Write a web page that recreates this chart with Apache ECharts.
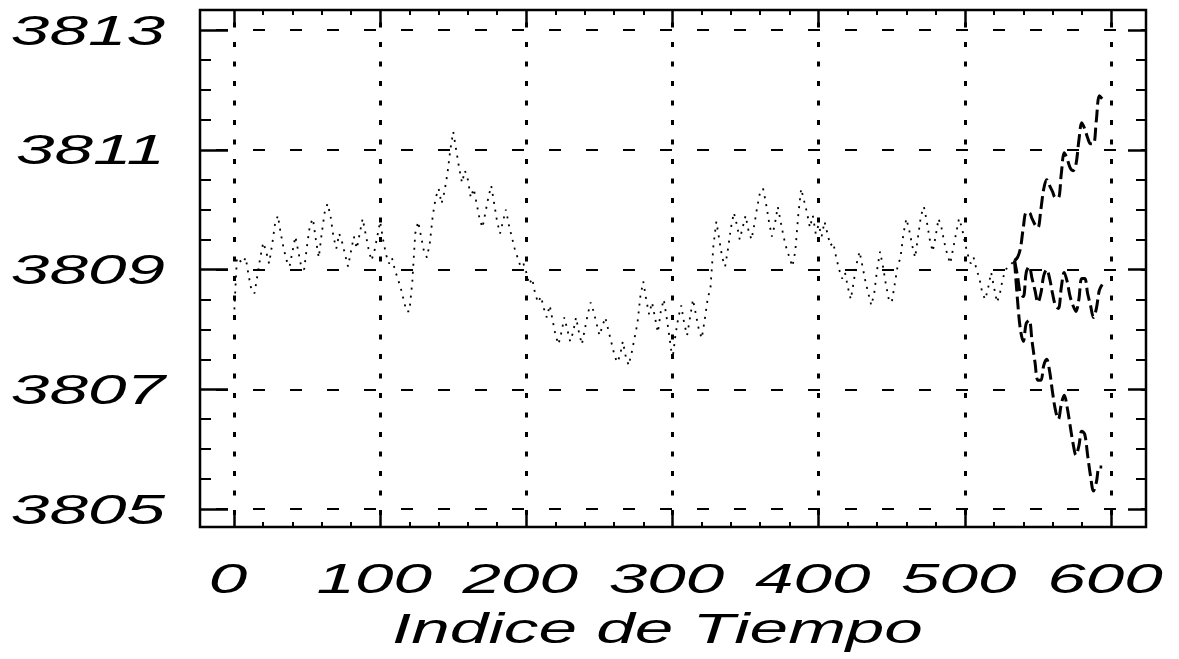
<!DOCTYPE html>
<html>
<head>
<meta charset="utf-8">
<script src="https://cdn.jsdelivr.net/npm/echarts@6/dist/echarts.min.js"></script>
<style>
  html, body { margin: 0; padding: 0; background: #fff; }
  #chart { width: 1179px; height: 659px; }
</style>
</head>
<body>
<div id="chart"></div>
<script>
// Observed series, one value every HIST_STEP time indices starting at 0
const HIST_STEP = 2;
const HIST = [
  3808.2, 3809.2, 3809.15, 3809.1, 3809.2, 3808.9, 3808.65, 3808.6, 3808.9, 3809.2,
  3809.45, 3809.3, 3809.1, 3809.4, 3809.75, 3809.9, 3809.6, 3809.35, 3809.15, 3809.05,
  3809.3, 3809.55, 3809.3, 3809.05, 3809.0, 3809.4, 3809.75, 3809.85, 3809.5, 3809.2,
  3809.6, 3809.95, 3810.1, 3809.9, 3809.55, 3809.35, 3809.6, 3809.45, 3809.25, 3809.05,
  3809.3, 3809.55, 3809.35, 3809.6, 3809.85, 3809.6, 3809.35, 3809.15, 3809.3, 3809.55,
  3809.8,
  3809.5, 3809.25, 3809.1, 3809.2, 3809.0, 3808.85, 3808.7, 3808.5, 3808.3, 3808.3,
  3808.8, 3809.6, 3809.8, 3809.55, 3809.3, 3809.2, 3809.45, 3809.9, 3810.2, 3810.35,
  3810.1, 3810.3, 3810.6, 3811.0, 3811.3, 3811.0, 3810.7, 3810.45, 3810.65, 3810.5,
  3810.2, 3810.35, 3810.1, 3809.85, 3809.7, 3809.95, 3810.2, 3810.4, 3810.1, 3809.8,
  3809.6, 3809.8, 3810.0, 3809.75, 3809.55, 3809.35, 3809.2, 3809.05, 3809.1, 3808.95,
  3808.75, 3808.85, 3808.6, 3808.45, 3808.55, 3808.35, 3808.2, 3808.4, 3808.15, 3807.9,
  3807.75, 3807.95, 3808.2, 3808.0, 3807.8, 3807.95, 3808.2, 3807.95, 3807.75, 3808.0,
  3808.25, 3808.45, 3808.3, 3808.1, 3807.9, 3808.05, 3808.2, 3808.0, 3807.8, 3807.6,
  3807.45, 3807.55, 3807.8, 3807.55, 3807.4, 3807.6, 3807.85, 3808.1, 3808.55, 3808.8,
  3808.5, 3808.25, 3808.45, 3808.2, 3807.95, 3808.3, 3808.5, 3808.2, 3807.85, 3807.5,
  3807.9, 3808.2, 3808.4, 3808.1, 3807.9, 3808.2, 3808.5, 3808.25, 3808.0, 3807.85,
  3808.15, 3808.5, 3808.7, 3809.4, 3809.8, 3809.5, 3809.2, 3809.05, 3809.35, 3809.7,
  3809.95, 3809.75, 3809.5, 3809.7, 3809.9, 3809.65, 3809.5, 3809.75, 3810.05, 3810.3,
  3810.35, 3810.1, 3809.8, 3809.55, 3809.75, 3810.05, 3809.8, 3809.55, 3809.35, 3809.2,
  3809.05, 3809.3, 3809.9, 3810.35, 3810.15, 3809.95, 3809.7, 3809.9, 3809.6, 3809.75,
  3809.55, 3809.8, 3809.6, 3809.4, 3809.45, 3809.2, 3809.0, 3808.85, 3808.95, 3808.7,
  3808.5, 3808.8, 3809.1, 3809.3, 3809.05, 3808.8, 3808.6, 3808.4, 3808.6, 3809.0,
  3809.3, 3809.05, 3808.75, 3808.5, 3808.45, 3808.75, 3809.05, 3809.2, 3809.6, 3809.85,
  3809.65, 3809.4, 3809.2, 3809.55, 3809.9, 3810.05, 3809.8, 3809.5, 3809.3, 3809.55,
  3809.85, 3809.7, 3809.45, 3809.25, 3809.1, 3809.35, 3809.6, 3809.85, 3809.7, 3809.45,
  3809.25, 3809.1, 3809.2, 3809.0, 3808.85, 3808.6, 3808.5, 3808.7, 3808.95, 3808.7,
  3808.45, 3808.6, 3808.85, 3809.0, 3809.05, 3809.1, 3809.15
];

// Forecast: time indices, point forecast and upper / lower limits
const FC_IDX = [534, 536, 538, 540, 542, 544, 546, 548, 550, 552, 554, 556, 558, 560, 562, 564,
                566, 568, 570, 572, 574, 576, 578, 580, 582, 584, 586, 588, 590, 592, 594];
const FC_MID = [3809.15, 3808.9, 3808.6, 3808.55, 3808.95, 3809.05, 3808.85, 3808.65, 3808.45, 3808.6,
                3808.9, 3809.0, 3808.85, 3808.6, 3808.4, 3808.35, 3808.7, 3808.95, 3808.8, 3808.55,
                3808.4, 3808.3, 3808.5, 3808.85, 3808.85, 3808.6, 3808.4, 3808.2, 3808.35, 3808.65, 3808.75];
const FC_UP  = [3809.15, 3809.2, 3809.35, 3809.7, 3809.95, 3809.95, 3809.85, 3809.75, 3809.7, 3810.0,
                3810.35, 3810.5, 3810.4, 3810.3, 3810.2, 3810.2, 3810.6, 3810.95, 3810.85, 3810.7,
                3810.65, 3810.75, 3811.15, 3811.45, 3811.35, 3811.2, 3811.1, 3811.1, 3811.5, 3811.9, 3811.85];
const FC_LO  = [3809.15, 3808.5, 3808.0, 3807.8, 3808.1, 3808.15, 3807.8, 3807.45, 3807.15, 3807.15,
                3807.4, 3807.5, 3807.3, 3806.95, 3806.65, 3806.5, 3806.75, 3806.9, 3806.7, 3806.4,
                3806.1, 3805.9, 3806.05, 3806.3, 3806.25, 3805.9, 3805.55, 3805.3, 3805.45, 3805.7, 3805.7];

// Axis ticks and labels
const X_MIN = 0, X_MAX = 600, X_STEP = 100;
const Y_MIN = 3805, Y_MAX = 3813, Y_STEP = 2;
const X_LABELS = ['0', '100', '200', '300', '400', '500', '600'];
const Y_LABELS = ['3805', '3807', '3809', '3811', '3813'];
const X_TITLE = 'Indice de Tiempo';

// Layout (pixels)
const W = 1179, H = 659;
const FRAME = { left: 200, right: 33, top: 10, bottom: 132 };   // plot box
const XSPAN = { left: 234, right: 68 };                          // where 0..600 sits
const YSPAN = { top: 30, bottom: 150 };                          // where 3805..3813 sits

const pxPerY = (H - YSPAN.top - YSPAN.bottom) / (Y_MAX - Y_MIN);
const yFullMin = Y_MIN - (YSPAN.bottom - FRAME.bottom) / pxPerY;
const yFullMax = Y_MAX + (YSPAN.top - FRAME.top) / pxPerY;

const histData = HIST.map((v, i) => [i * HIST_STEP, v]);
const pairs = (xs, ys) => xs.map((x, i) => [x, ys[i]]);

const chart = echarts.init(document.getElementById('chart'), null, { renderer: 'svg' });

const black = '#000';
const hidden = (grid) => ({ gridIndex: grid, show: false, type: 'value', min: 0, max: 1 });
const forecastLine = { color: black, width: 3, type: [13, 5], cap: 'butt' };

chart.setOption({
  animation: false,
  backgroundColor: '#fff',
  grid: [
    // 0: horizontal extent of the time axis, full frame height
    { left: XSPAN.left, right: XSPAN.right, top: FRAME.top, bottom: FRAME.bottom, containLabel: false },
    // 1: vertical extent of the value axis, full frame width
    { left: FRAME.left, right: FRAME.right, top: YSPAN.top, bottom: YSPAN.bottom, containLabel: false },
    // 2: the frame itself
    { left: FRAME.left, right: FRAME.right, top: FRAME.top, bottom: FRAME.bottom, containLabel: false,
      show: true, borderColor: black, borderWidth: 2.5, backgroundColor: 'transparent', z: 10 }
  ],
  xAxis: [
    {
      gridIndex: 0, type: 'value', position: 'bottom', min: X_MIN, max: X_MAX, interval: X_STEP,
      axisLine: { show: false },
      axisTick: { show: true, inside: true, length: 13, lineStyle: { color: black, width: 2.5 } },
      minorTick: { show: true, splitNumber: 5, length: 5, lineStyle: { color: black, width: 2 } },
      axisLabel: { show: false },
      splitLine: { show: true, lineStyle: { color: black, width: 3, type: [5, 14.5], dashOffset: 7 } }
    },
    {
      gridIndex: 0, type: 'value', position: 'top', min: X_MIN, max: X_MAX, interval: X_STEP,
      axisLine: { show: false },
      axisTick: { show: true, inside: true, length: 13, lineStyle: { color: black, width: 2.5 } },
      minorTick: { show: true, splitNumber: 5, length: 5, lineStyle: { color: black, width: 2 } },
      axisLabel: { show: false },
      splitLine: { show: false }
    },
    hidden(1),
    hidden(2)
  ],
  yAxis: [
    // data scale of grid 0 (same pixels per unit as the visible value axis)
    { gridIndex: 0, type: 'value', show: false, min: yFullMin, max: yFullMax },
    {
      gridIndex: 1, type: 'value', position: 'left', min: Y_MIN, max: Y_MAX, interval: Y_STEP,
      axisLine: { show: false },
      axisTick: { show: true, inside: true, length: 28, lineStyle: { color: black, width: 2.5 } },
      minorTick: { show: true, splitNumber: 4, length: 11, lineStyle: { color: black, width: 2 } },
      axisLabel: { show: false },
      splitLine: { show: true, lineStyle: { color: black, width: 2, type: [12, 25], dashOffset: 21 } }
    },
    {
      gridIndex: 1, type: 'value', position: 'right', min: Y_MIN, max: Y_MAX, interval: Y_STEP,
      axisLine: { show: false },
      axisTick: { show: true, inside: true, length: 18, lineStyle: { color: black, width: 2.5 } },
      minorTick: { show: true, splitNumber: 4, length: 10, lineStyle: { color: black, width: 2 } },
      axisLabel: { show: false },
      splitLine: { show: false }
    },
    hidden(2)
  ],
  series: [
    {
      name: 'observado', type: 'line', xAxisIndex: 0, yAxisIndex: 0, data: histData,
      symbol: 'none', silent: true, z: 5,
      lineStyle: { color: black, width: 1.8, type: [2, 6], cap: 'butt' }
    },
    {
      name: 'pronostico', type: 'line', xAxisIndex: 0, yAxisIndex: 0, data: pairs(FC_IDX, FC_MID),
      symbol: 'none', silent: true, smooth: 0.35, z: 6, lineStyle: forecastLine
    },
    {
      name: 'limite superior', type: 'line', xAxisIndex: 0, yAxisIndex: 0, data: pairs(FC_IDX, FC_UP),
      symbol: 'none', silent: true, smooth: 0.35, z: 6, lineStyle: forecastLine
    },
    {
      name: 'limite inferior', type: 'line', xAxisIndex: 0, yAxisIndex: 0, data: pairs(FC_IDX, FC_LO),
      symbol: 'none', silent: true, smooth: 0.35, z: 6, lineStyle: forecastLine
    }
  ]
});

// Wide oblique labels, placed from the axes' own scales
const FONT = { fontFamily: '"Liberation Sans", Arial, sans-serif', fontStyle: 'italic', fontSize: 42, fill: black };
const STRETCH = 1.65;
const texts = [];
X_LABELS.forEach((t) => {
  const px = chart.convertToPixel({ xAxisIndex: 0 }, Number(t));
  texts.push({
    type: 'text', x: px - 6, y: H - FRAME.bottom + 51, scaleX: STRETCH, silent: true,
    style: Object.assign({ text: t, align: 'center', verticalAlign: 'middle' }, FONT)
  });
});
Y_LABELS.forEach((t) => {
  const py = chart.convertToPixel({ yAxisIndex: 1 }, Number(t));
  texts.push({
    type: 'text', x: FRAME.left - 35, y: py, scaleX: STRETCH, silent: true,
    style: Object.assign({ text: t, align: 'right', verticalAlign: 'middle' }, FONT)
  });
});
const midX = chart.convertToPixel({ xAxisIndex: 0 }, (X_MIN + X_MAX) / 2);
texts.push({
  type: 'text', x: midX - 15, y: H - FRAME.bottom + 101, scaleX: STRETCH, silent: true,
  style: Object.assign({ text: X_TITLE, align: 'center', verticalAlign: 'middle' }, FONT)
});
chart.setOption({ graphic: texts });
</script>
</body>
</html>
